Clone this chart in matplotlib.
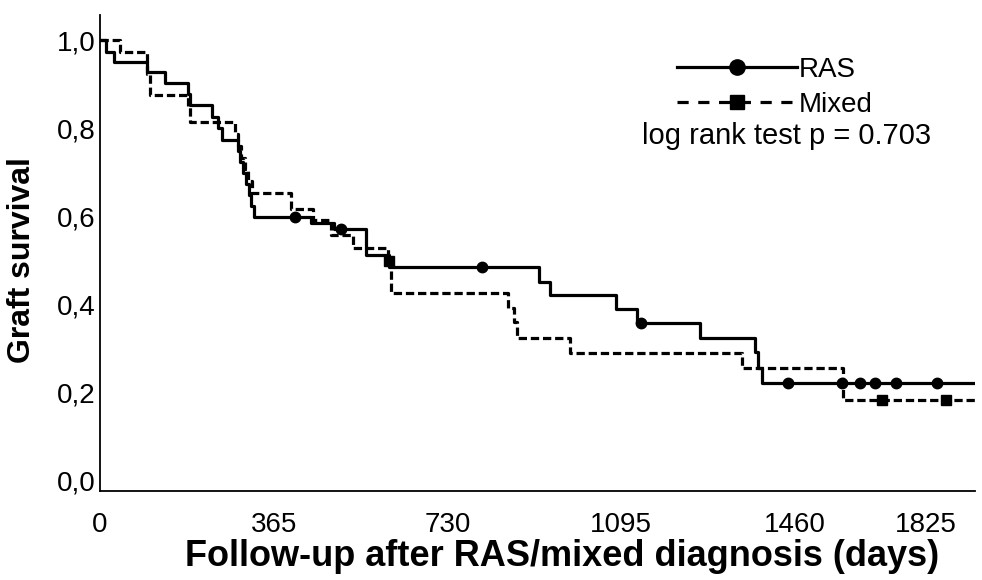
import numpy as np
import matplotlib
matplotlib.use("Agg")
import matplotlib.pyplot as plt
from matplotlib.lines import Line2D
from matplotlib.transforms import ScaledTranslation

# ---- data ----
ras_days = [0, 13, 29, 98, 136, 184, 190, 235, 248, 256, 290, 295, 300, 306, 312, 318, 324,
            444, 492, 559, 608, 922, 945, 1083, 1128, 1260, 1376, 1382, 1390]
ras_surv = [1.0, 0.973, 0.951, 0.928, 0.903, 0.877, 0.852, 0.826, 0.80, 0.773, 0.748, 0.723, 0.698,
            0.673, 0.648, 0.623, 0.598, 0.585, 0.57, 0.511, 0.485, 0.449, 0.42, 0.388, 0.358,
            0.322, 0.29, 0.255, 0.22]
ras_censor = [409, 507, 802, 1136, 1446, 1558, 1597, 1628, 1672, 1759]

mixed_days = [0, 42, 98, 105, 184, 190, 283, 290, 297, 304, 311, 320, 402, 448, 486, 531,
              606, 612, 856, 870, 876, 987, 1348, 1561]
mixed_surv = [1.0, 0.972, 0.924, 0.875, 0.85, 0.814, 0.787, 0.76, 0.733, 0.706, 0.679, 0.652,
              0.617, 0.59, 0.557, 0.527, 0.497, 0.424, 0.39, 0.36, 0.322, 0.288, 0.254, 0.182]
mixed_censor = [608, 1642, 1778]

end_day = 1838
x_ticks = [0, 365, 730, 1095, 1460, 1825]
y_ticks = [0.0, 0.2, 0.4, 0.6, 0.8, 1.0]
y_ticklabels = ["0,0", "0,2", "0,4", "0,6", "0,8", "1,0"]
labels = ["RAS", "Mixed"]
p_text = "log rank test p = 0.703"

FONT = "Liberation Sans"


def step_xy(days, surv, end):
    x = list(days) + [end]
    y = list(surv) + [surv[-1]]
    return x, y


def level_at(days, surv, t):
    idx = np.searchsorted(np.asarray(days), t, side="right") - 1
    return np.asarray(surv)[idx]


fig = plt.figure(figsize=(9.82, 5.80), dpi=100)
ax = fig.add_axes([100 / 982, 89 / 580, 875 / 982, 476 / 580])

rx, ry = step_xy(ras_days, ras_surv, end_day)
mx, my = step_xy(mixed_days, mixed_surv, end_day)

ax.step(mx, my, where="post", color="black", lw=2.3, linestyle=(0, (2.6, 1.2)))
ax.step(rx, ry, where="post", color="black", lw=2.3, linestyle="-")

ax.plot(ras_censor, level_at(ras_days, ras_surv, ras_censor), "o", color="black",
        markersize=7.5, linestyle="none")
ax.plot(mixed_censor, level_at(mixed_days, mixed_surv, mixed_censor), "s", color="black",
        markersize=7, linestyle="none")

ax.set_xlim(0, end_day)
ax.set_ylim(-0.025, 1.057)
ax.set_xticks(x_ticks)
ax.set_xticklabels([str(t) for t in x_ticks], fontfamily=FONT, fontsize=20)
ax.set_yticks(y_ticks)
ax.set_yticklabels(y_ticklabels, fontfamily=FONT, fontsize=20)
ax.tick_params(axis="x", length=0, pad=15)
ax.tick_params(axis="y", length=0, pad=3)
# last x label is pulled inside the figure as in the reference
lab = ax.get_xticklabels()[-1]
lab.set_transform(lab.get_transform() + ScaledTranslation(-0.43, 0, fig.dpi_scale_trans))

for s in ["top", "right"]:
    ax.spines[s].set_visible(False)
for s in ["left", "bottom"]:
    ax.spines[s].set_linewidth(1.3)

fig.text(562 / 982, 1 - 556 / 580, "Follow-up after RAS/mixed diagnosis (days)",
         ha="center", va="center", fontfamily=FONT, fontweight="bold", fontsize=26)
fig.text(22 / 982, 1 - 260 / 580, "Graft survival", ha="center", va="center",
         rotation=90, fontfamily=FONT, fontweight="bold", fontsize=23)

handles = [Line2D([], [], color="black", lw=2.3, marker="o", markersize=11),
           Line2D([], [], color="black", lw=2.3, linestyle=(0, (3.5, 3.0)), marker="s",
                  markersize=10)]
leg = ax.legend(handles, labels, loc="upper right", bbox_to_anchor=(0.896, 0.935),
                frameon=False, handlelength=4.3, handletextpad=0.08, labelspacing=0.33,
                numpoints=1, prop={"family": FONT, "size": 20}, borderaxespad=0)
ax.text((787 - 100) / 875, (491 - 136) / 476, p_text, transform=ax.transAxes, ha="center",
        va="center", fontfamily=FONT, fontsize=21)

fig.savefig("out.png", dpi=100)
